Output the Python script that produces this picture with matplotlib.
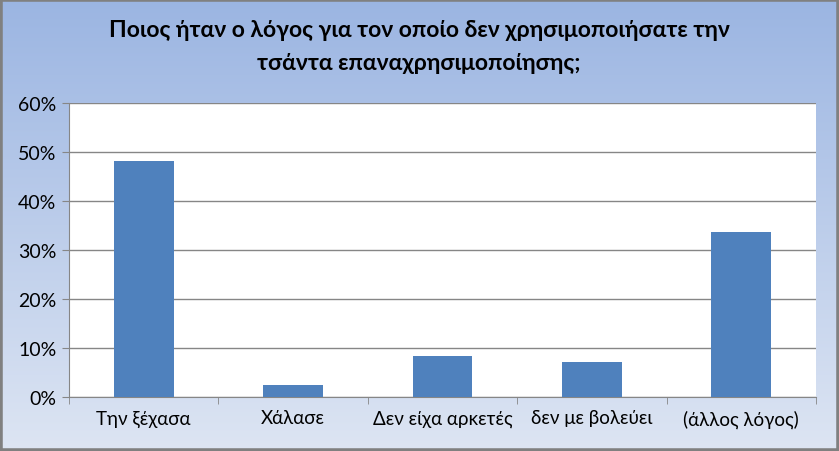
import matplotlib
matplotlib.use("Agg")
import matplotlib.pyplot as plt
import numpy as np
from matplotlib.ticker import FixedLocator, PercentFormatter
from matplotlib.colors import LinearSegmentedColormap

categories = ["Την ξέχασα", "Χάλασε", "Δεν είχα αρκετές", "δεν με βολεύει", "(άλλος λόγος)"]
values = [48.2, 2.4, 8.4, 7.1, 33.7]
yticks = [0, 10, 20, 30, 40, 50, 60]
title = "Ποιος ήταν ο λόγος για τον οποίο δεν χρησιμοποιήσατε την\nτσάντα επαναχρησιμοποίησης;"

plt.rcParams['font.family'] = ['Lato', 'DejaVu Sans']

fig = plt.figure(figsize=(8.39, 4.52), dpi=100)

# gradient background
bg = fig.add_axes([0, 0, 1, 1], zorder=-10)
grad = np.linspace(0, 1, 256).reshape(-1, 1)
cmap = LinearSegmentedColormap.from_list("bg", ["#9bb5e2", "#dde5f3"])
bg.imshow(grad, aspect='auto', cmap=cmap, extent=[0, 1, 0, 1], origin='upper')
bg.set_xlim(0, 1); bg.set_ylim(0, 1)
bg.axis('off')
bg.add_patch(plt.Rectangle((0, 0), 1, 1, fill=False, edgecolor='#808080', linewidth=4, transform=bg.transAxes))

W, H = 839, 452
x0, x1, y0, y1 = 69, 816, 104, 398
ax = fig.add_axes([x0 / W, 1 - y1 / H, (x1 - x0) / W, (y1 - y0) / H])
ax.set_facecolor('white')
x = np.arange(len(categories))
ax.bar(x, values, width=0.4, color='#4f81bd', zorder=3)
ax.set_xlim(-0.5, len(categories) - 0.5)
ax.set_ylim(0, 60)
ax.yaxis.set_major_locator(FixedLocator(yticks))
ax.yaxis.set_major_formatter(PercentFormatter(decimals=0))
ax.grid(axis='y', color='#868686', linewidth=1, zorder=0)
for s in ['top', 'right']:
    ax.spines[s].set_visible(False)
ax.spines['left'].set_color('#868686')
ax.spines['bottom'].set_color('#868686')
ax.set_xticks(x)
ax.set_xticklabels(categories, fontsize=13.5, color='black')
ax.tick_params(axis='x', length=0, pad=9)
ax.set_xticks(np.arange(-0.5, len(categories)), minor=True)
ax.tick_params(axis='x', which='minor', length=5, color='#868686', direction='out')
ax.tick_params(axis='y', length=5, color='#868686', labelsize=14, pad=4)

fig.text(0.5 * (108 + 730) / W, 1 - 47 / H, title, ha='center', va='center',
         fontsize=16.5, fontweight='bold', linespacing=1.65)

fig.savefig("out.png", dpi=100)
